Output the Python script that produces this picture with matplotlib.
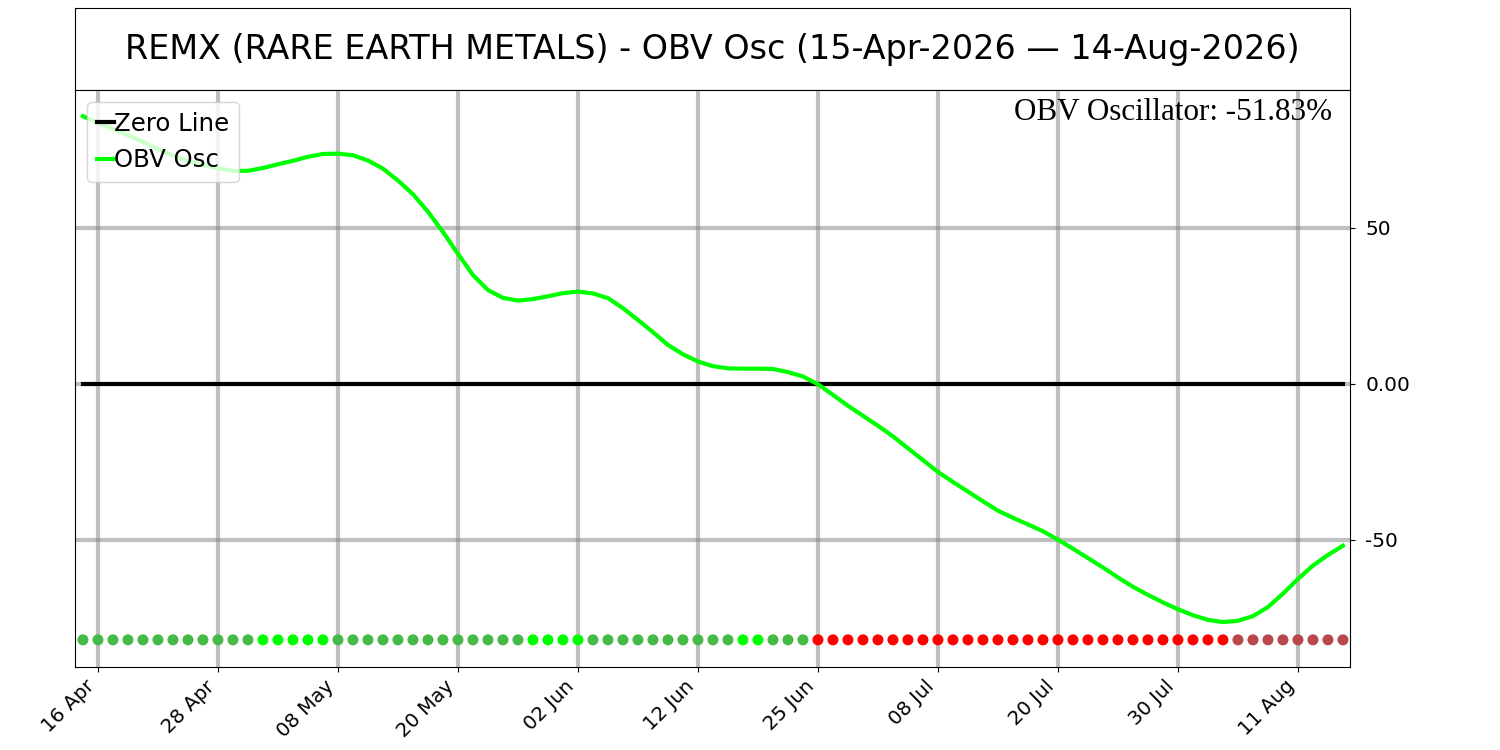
import numpy as np
import pandas as pd
from matplotlib import pyplot as plt

# trading days 15-Apr-2026 .. 14-Aug-2026 (US market holidays skipped)
holidays = ['2026-05-25', '2026-06-19', '2026-07-03']
dates = pd.bdate_range('2026-04-15', '2026-08-14', freq='C', holidays=holidays)

obv_osc = [85.8, 83.6, 81.8, 79.7, 77.5, 75.2, 73.2, 71.4, 70.2, 69.1,
           68.3, 68.3, 69.2, 70.4, 71.5, 72.8, 73.7, 73.8, 73.3, 71.6,
           69.0, 65.2, 60.8, 55.2, 48.7, 41.7, 34.9, 30.1, 27.6, 26.7,
           27.2, 28.1, 29.1, 29.6, 29.0, 27.5, 24.3, 20.5, 16.6, 12.5,
           9.5, 7.2, 5.7, 5.0, 4.9, 4.9, 4.8, 3.8, 2.4, -0.1,
           -3.5, -7.0, -10.2, -13.4, -16.8, -20.6, -24.4, -28.2, -31.4, -34.5,
           -37.6, -40.6, -42.9, -45.0, -47.2, -49.9, -52.8, -55.8, -58.8, -62.0,
           -65.0, -67.6, -70.0, -72.2, -74.1, -75.6, -76.3, -75.9, -74.4, -71.5,
           -67.2, -62.5, -58.2, -54.8, -51.83]

# signal dots along the bottom, as run lengths of colour
dot_runs = [('#46b946', 12), ('#00ff00', 5), ('#46b946', 13), ('#00ff00', 4),
            ('#46b946', 10), ('#00ff00', 2), ('#46b946', 3), ('#ff0000', 28),
            ('#b94848', 8)]
dot_level = -82.0

title = 'REMX (RARE EARTH METALS) - OBV Osc (15-Apr-2026 \u2014 14-Aug-2026)'
tick_step = 8
tick_start = 1

x = np.arange(len(dates))
dot_colors = []
for c, n in dot_runs:
    dot_colors += [c] * n

fig = plt.figure(figsize=(15, 7.5), dpi=100)
ax_t = fig.add_axes([75 / 1500, 1 - 90 / 750, 1275 / 1500, 82 / 750])
ax_t.set_xticks([])
ax_t.set_yticks([])
ax_t.text(0.5, 0.5, title, ha='center', va='center', fontsize=24,
          transform=ax_t.transAxes)

ax = fig.add_axes([75 / 1500, 83 / 750, 1275 / 1500, 577 / 750])
ax.plot(x, np.zeros(len(x)), color='black', lw=3, label='Zero Line', zorder=3)
ax.plot(x, obv_osc, color='#00ff00', lw=3, label='OBV Osc', zorder=4)
ax.scatter(x, [dot_level] * len(x), c=dot_colors, s=48, zorder=5)

ax.set_xlim(-0.53, 84.47)
ax.set_ylim(-90.7, 94.2)
ticks = x[tick_start::tick_step]
ax.set_xticks(ticks)
ax.set_xticklabels([dates[i].strftime('%d %b') for i in ticks],
                   rotation=45, ha='right', fontsize=14.2)
ax.yaxis.tick_right()
ax.set_yticks([-50, 0, 50])
ax.set_yticklabels(['-50', '0.00', '50'], fontsize=14.4)
ax.tick_params(axis='y', pad=7.5)
ax.grid(True, color='gray', alpha=0.5, lw=3)

ax.text(0.986, 0.987, 'OBV Oscillator: -51.83%', transform=ax.transAxes,
        ha='right', va='top', fontsize=22.4, family='Liberation Serif')
ax.legend(loc='upper left', fontsize=17.6, handlelength=0.7, handletextpad=0.0)

fig.savefig('out.png')
